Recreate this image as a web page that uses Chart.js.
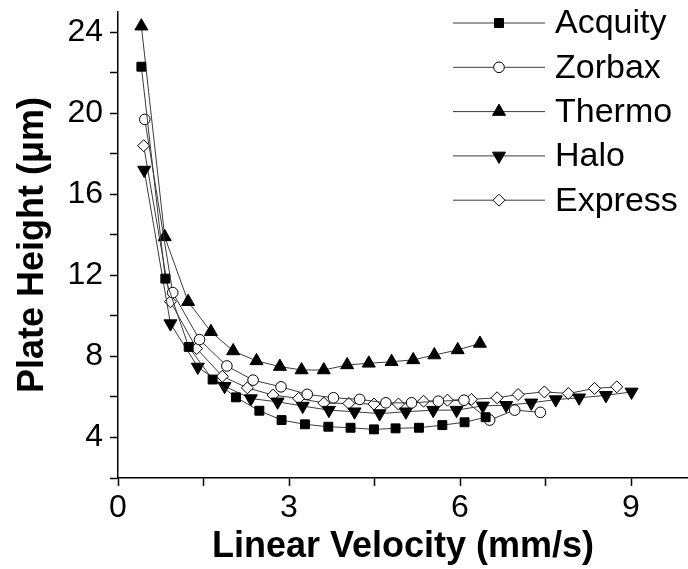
<!DOCTYPE html>
<html>
<head>
<meta charset="utf-8">
<script src="https://cdn.jsdelivr.net/npm/chart.js@4.4.0/dist/chart.umd.min.js"></script>
<style>
  html, body { margin: 0; padding: 0; background: #fff; }
</style>
</head>
<body>
<canvas id="mychart" width="688" height="569"></canvas>
<script>
// series: velocity (mm/s) and plate height (um)
const seriesNames = ['Acquity', 'Zorbax', 'Thermo', 'Halo', 'Express'];

const acquityVel = [0.41, 0.83, 1.24, 1.66, 2.07, 2.48, 2.87, 3.28, 3.69, 4.08, 4.49, 4.87, 5.28, 5.69, 6.08, 6.45];
const acquityH = [22.3, 11.84, 8.47, 6.86, 5.98, 5.32, 4.86, 4.65, 4.53, 4.48, 4.40, 4.45, 4.48, 4.61, 4.75, 5.0];

const zorbaxVel = [0.47, 0.96, 1.43, 1.91, 2.37, 2.86, 3.32, 3.78, 4.24, 4.70, 5.15, 5.62, 6.07, 6.52, 6.96, 7.41];
const zorbaxH = [19.7, 11.15, 8.83, 7.53, 6.83, 6.50, 6.13, 5.96, 5.88, 5.71, 5.71, 5.79, 5.84, 4.86, 5.35, 5.24];

const thermoVel = [0.41, 0.82, 1.23, 1.63, 2.02, 2.43, 2.84, 3.22, 3.61, 4.02, 4.40, 4.80, 5.18, 5.55, 5.96, 6.35];
const thermoH = [24.3, 13.9, 10.7, 9.22, 8.27, 7.78, 7.50, 7.33, 7.33, 7.58, 7.66, 7.74, 7.83, 8.07, 8.32, 8.64];

const haloVel = [0.46, 0.92, 1.40, 1.87, 2.33, 2.80, 3.24, 3.70, 4.15, 4.59, 5.05, 5.53, 5.94, 6.40, 6.81, 7.25, 7.68, 8.09, 8.56, 9.01];
const haloH = [17.2, 9.62, 7.48, 6.53, 5.92, 5.76, 5.55, 5.35, 5.27, 5.18, 5.27, 5.35, 5.35, 5.56, 5.59, 5.71, 5.87, 5.96, 6.08, 6.25];

const expressVel = [0.45, 0.92, 1.38, 1.83, 2.27, 2.72, 3.17, 3.61, 4.05, 4.49, 4.92, 5.36, 5.78, 6.20, 6.65, 7.02, 7.48, 7.90, 8.36, 8.75];
const expressH = [18.4, 10.7, 8.39, 7.02, 6.45, 6.09, 5.93, 5.70, 5.68, 5.65, 5.65, 5.79, 5.84, 5.88, 5.96, 6.12, 6.25, 6.17, 6.42, 6.50];

const xTickValues = [0, 1.5, 3, 4.5, 6, 7.5, 9];
const xTickLabels = ['0', '', '3', '', '6', '', '9'];
const yTickValues = [2, 4, 6, 8, 10, 12, 14, 16, 18, 20, 22, 24];
const yTickLabels = ['', '4', '', '8', '', '12', '', '16', '', '20', '', '24'];

const fontFam = '"Liberation Sans", Arial, sans-serif';

function toPoints(xs, ys) {
    let pts = [];
    for (let i = 0; i < xs.length; i++) {
        pts.push({ x: xs[i], y: ys[i] });
    }
    return pts;
}

function makeSet(label, xs, ys, style, radius, fill, rotation) {
    return {
        label: label,
        data: toPoints(xs, ys),
        borderColor: '#3c3c3c',
        borderWidth: 1,
        tension: 0,
        pointStyle: style,
        pointRadius: radius,
        pointHoverRadius: radius,
        pointRotation: rotation || 0,
        pointBackgroundColor: fill,
        pointBorderColor: '#000',
        pointBorderWidth: 1
    };
}

// legend with a short line through each marker, drawn top right inside the plot
const lineLegend = {
    id: 'lineLegend',
    afterDraw(chart) {
        const ctx = chart.ctx;
        ctx.save();
        chart.data.datasets.forEach((ds, i) => {
            const y = 23 + i * 44.3;
            ctx.strokeStyle = ds.borderColor;
            ctx.lineWidth = 1;
            ctx.beginPath();
            ctx.moveTo(453, y);
            ctx.lineTo(545, y);
            ctx.stroke();
            ctx.fillStyle = ds.pointBackgroundColor;
            ctx.strokeStyle = ds.pointBorderColor;
            Chart.helpers.drawPoint(ctx, {
                pointStyle: ds.pointStyle,
                rotation: ds.pointRotation,
                radius: ds.pointRadius,
                borderWidth: 1
            }, 499, y);
            ctx.fillStyle = '#000';
            ctx.font = '34px ' + fontFam;
            ctx.textBaseline = 'middle';
            ctx.textAlign = 'left';
            ctx.fillText(ds.label, 555, y + 1);
        });
        ctx.restore();
    }
};

let myChart = document.getElementById('mychart').getContext('2d');

let plateChart = new Chart(myChart, {
    type: 'line',
    data: {
        datasets: [
            makeSet(seriesNames[0], acquityVel, acquityH, 'rect', 6.3, '#000'),
            makeSet(seriesNames[1], zorbaxVel, zorbaxH, 'circle', 5.3, '#fff'),
            makeSet(seriesNames[2], thermoVel, thermoH, 'triangle', 7.5, '#000'),
            makeSet(seriesNames[3], haloVel, haloH, 'triangle', 7.5, '#000', 180),
            makeSet(seriesNames[4], expressVel, expressH, 'rectRot', 6, '#fff')
        ]
    },
    options: {
        responsive: false,
        animation: false,
        layout: { autoPadding: false, padding: { top: 12, right: 0, bottom: 0, left: 0 } },
        plugins: {
            legend: { display: false },
            tooltip: { enabled: false }
        },
        scales: {
            x: {
                type: 'linear',
                min: 0,
                max: 10,
                afterBuildTicks: (s) => { s.ticks = xTickValues.map(v => ({ value: v })); },
                afterFit: (s) => { s.height = 91; s.paddingLeft = 0; s.paddingRight = 0; },
                ticks: {
                    autoSkip: false,
                    maxRotation: 0,
                    padding: 3,
                    color: '#000',
                    font: { size: 32, family: fontFam },
                    callback: (v, i) => xTickLabels[i]
                },
                grid: { drawOnChartArea: false, tickLength: 8, tickColor: '#000', tickWidth: 1.5 },
                border: { color: '#000', width: 1.5 },
                title: {
                    display: true,
                    text: 'Linear Velocity (mm/s)',
                    color: '#000',
                    font: { size: 36, weight: 'bold', family: fontFam },
                    padding: { top: 0, bottom: 0 }
                }
            },
            y: {
                type: 'linear',
                min: 2,
                max: 25,
                afterBuildTicks: (s) => { s.ticks = yTickValues.map(v => ({ value: v })); },
                afterFit: (s) => { s.width = 118; s.paddingTop = 0; s.paddingBottom = 0; },
                ticks: {
                    autoSkip: false,
                    padding: 7,
                    color: '#000',
                    font: { size: 32, family: fontFam },
                    callback: (v, i) => yTickLabels[i]
                },
                grid: { drawOnChartArea: false, tickLength: 8, tickColor: '#000', tickWidth: 1.5 },
                border: { color: '#000', width: 1.5 },
                title: {
                    display: true,
                    text: 'Plate Height (\u03bcm)',
                    color: '#000',
                    font: { size: 36, weight: 'bold', family: fontFam },
                    padding: { top: 11, bottom: 0 }
                }
            }
        }
    },
    plugins: [lineLegend]
});
</script>
</body>
</html>
